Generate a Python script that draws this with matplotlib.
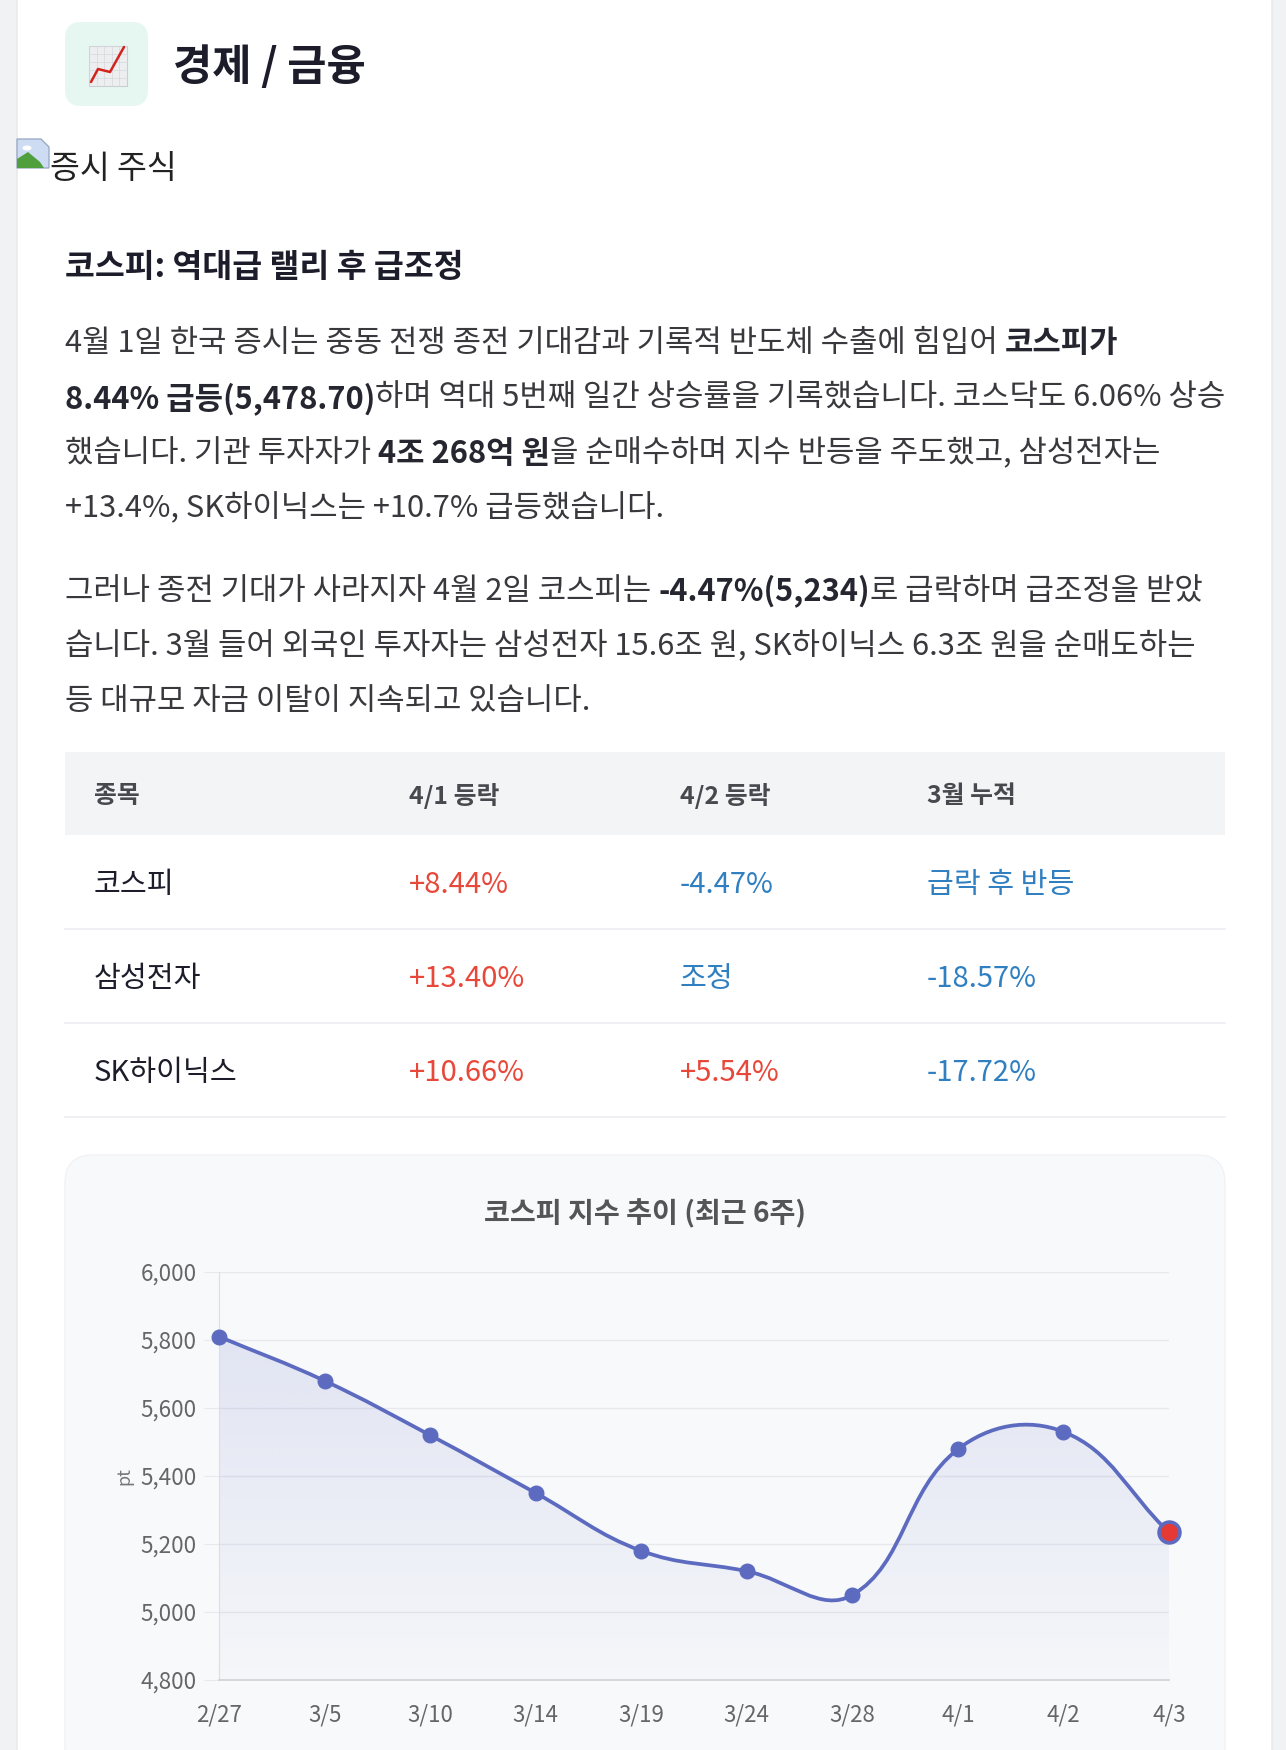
import numpy as np
import matplotlib.pyplot as plt
from matplotlib.patches import FancyBboxPatch, Rectangle, PathPatch, Polygon, Ellipse
from matplotlib.path import Path
from matplotlib.ticker import FuncFormatter

plt.rcParams['font.family'] = ['Noto Sans CJK KR', 'DejaVu Sans']

# ---- data ----
dates = ['2/27', '3/5', '3/10', '3/14', '3/19', '3/24', '3/28', '4/1', '4/2', '4/3']
kospi = [5810, 5680, 5520, 5350, 5180, 5120, 5050, 5478.7, 5530, 5234]

table_header = ['종목', '4/1 등락', '4/2 등락', '3월 누적']
table_names = ['코스피', '삼성전자', 'SK하이닉스']
table_apr1 = ['+8.44%', '+13.40%', '+10.66%']
table_apr2 = ['-4.47%', '조정', '+5.54%']
table_march = ['급락 후 반등', '-18.57%', '-17.72%']

para1 = [
    [('4월 1일 한국 증시는 중동 전쟁 종전 기대감과 기록적 반도체 수출에 힘입어 ', False), ('코스피가', True)],
    [('8.44% 급등(5,478.70)', True), ('하며 역대 5번째 일간 상승률을 기록했습니다. 코스닥도 6.06% 상승', False)],
    [('했습니다. 기관 투자자가 ', False), ('4조 268억 원', True), ('을 순매수하며 지수 반등을 주도했고, 삼성전자는', False)],
    [('+13.4%, SK하이닉스는 +10.7% 급등했습니다.', False)],
]
para2 = [
    [('그러나 종전 기대가 사라지자 4월 2일 코스피는 ', False), ('-4.47%(5,234)', True), ('로 급락하며 급조정을 받았', False)],
    [('습니다. 3월 들어 외국인 투자자는 삼성전자 15.6조 원, SK하이닉스 6.3조 원을 순매도하는', False)],
    [('등 대규모 자금 이탈이 지속되고 있습니다.', False)],
]

RED = '#e8483a'
BLUE = '#2f7fc1'
INDIGO = '#5c6bc0'

W, H = 1286, 1750
fig = plt.figure(figsize=(W / 100, H / 100), dpi=100)
fig.patch.set_facecolor('#f1f2f4')
page = fig.add_axes([0, 0, 1, 1])
page.set_xlim(0, W)
page.set_ylim(H, 0)
page.axis('off')
renderer = fig.canvas.get_renderer()

# white card
page.add_patch(FancyBboxPatch((17, -40), 1255, 1850, boxstyle='round,pad=0,rounding_size=26',
                              fc='white', ec='#e6e7ea', lw=1))

# header icon (chart emoji drawn by hand)
page.add_patch(FancyBboxPatch((65, 22), 83, 84, boxstyle='round,pad=0,rounding_size=16',
                              fc='#e6f7f2', ec='none'))
page.add_patch(Rectangle((89, 46), 38, 40, fc='#eceef0', ec='#c9ccd0', lw=0.8))
for gx in np.arange(89, 127, 7.6):
    page.plot([gx, gx], [46, 86], color='#d5d8dc', lw=0.5)
for gy in np.arange(46, 86, 8):
    page.plot([89, 127], [gy, gy], color='#d5d8dc', lw=0.5)
page.plot([91, 98, 110, 124], [82, 69, 72, 47], color='#d2231c', lw=1.8, solid_capstyle='round')

page.text(173, 67, '경제 / 금융', fontsize=30.7, fontweight='bold', color='#1c1c2b', va='center', ha='left')

# broken image icon + alt text
page.add_patch(Polygon([[17, 139], [41, 139], [49, 147], [49, 168], [17, 168]], closed=True,
                       fc='#cddcf3', ec='#93a6c0', lw=0.9))
page.add_patch(Ellipse((27, 148), 9, 5, fc='white', ec='none'))
page.add_patch(Polygon([[17, 168], [17, 159], [28, 152], [40, 162], [44, 168]], closed=True,
                       fc='#4fa03c', ec='none'))
page.text(50, 169, '증시 주식', fontsize=23.4, color='#222222', va='center', ha='left')

page.text(65, 268, '코스피: 역대급 랠리 후 급조정', fontsize=23.4, fontweight='bold',
          color='#1c1c2b', va='center', ha='left')


def seg_width(s, bold, size):
    w8 = 'bold' if bold else 'normal'
    t1 = page.text(0, 0, '|' + s + '|', fontsize=size, fontweight=w8)
    t2 = page.text(0, 0, '||', fontsize=size, fontweight=w8)
    w = t1.get_window_extent(renderer).width - t2.get_window_extent(renderer).width
    t1.remove()
    t2.remove()
    return w


def draw_line(x, y, parts, size):
    for s, bold in parts:
        page.text(x, y, s, fontsize=size, fontweight='bold' if bold else 'normal',
                  color='#262630' if bold else '#38383d', va='center', ha='left')
        x += seg_width(s, bold, size)


PSIZE = 22.2
for i, parts in enumerate(para1):
    draw_line(65, 343 + i * 55.3, parts, PSIZE)
for i, parts in enumerate(para2):
    draw_line(65, 591 + i * 55.3, parts, PSIZE)

# table
col_x = [94, 409, 680, 927]
page.add_patch(Rectangle((65, 752), 1160, 83, fc='#f3f4f6', ec='none'))
for cx, h in zip(col_x, table_header):
    page.text(cx, 796, h, fontsize=17.9, fontweight='bold', color='#48484e', va='center', ha='left')
row_y = [885, 979, 1073]
for i in range(3):
    page.plot([65, 1225], [row_y[i] + 44, row_y[i] + 44], color='#eceef1', lw=1.2)
    page.text(col_x[0], row_y[i], table_names[i], fontsize=21, color='#1c1c2b', va='center', ha='left')
    for cx, v in zip(col_x[1:], [table_apr1[i], table_apr2[i], table_march[i]]):
        c = RED if v.startswith('+') else BLUE
        page.text(cx, row_y[i], v, fontsize=21, color=c, va='center', ha='left')

# chart panel
page.add_patch(FancyBboxPatch((65, 1155), 1160, 620, boxstyle='round,pad=0,rounding_size=28',
                              fc='#f8f9fb', ec='#f1f2f5', lw=1))
page.text(645, 1214, '코스피 지수 추이 (최근 6주)', fontsize=20.3, fontweight='bold',
          color='#555555', va='center', ha='center')
page.text(124, 1476, 'pt', fontsize=13, color='#777777', rotation=90, va='center', ha='center')

ax_l, ax_r, ax_t, ax_b = 219, 1169, 1272, 1680
ax = fig.add_axes([ax_l / W, 1 - ax_b / H, (ax_r - ax_l) / W, (ax_b - ax_t) / H])
ax.set_facecolor('none')
ax.set_xlim(0, len(dates) - 1)
ax.set_ylim(4800, 6000)
ax.set_yticks(np.arange(4800, 6001, 200))
ax.yaxis.set_major_formatter(FuncFormatter(lambda v, p: f'{int(v):,}'))
ax.set_xticks(range(len(dates)))
ax.set_xticklabels(dates)
ax.grid(axis='y', color='#e7e9ed', lw=1)
ax.set_axisbelow(True)
for s in ['top', 'right']:
    ax.spines[s].set_visible(False)
ax.spines['left'].set_color('#dcdee2')
ax.spines['bottom'].set_color('#d3d5da')
ax.spines['bottom'].set_linewidth(1.3)
ax.tick_params(axis='y', length=11, color='#e7e9ed', pad=5, labelsize=16.2, labelcolor='#666666')
ax.tick_params(axis='x', length=0, pad=17, labelsize=16, labelcolor='#666666')

# Chart.js-like cubic spline (tension 0.4) computed in pixel space
xs = np.arange(len(kospi), dtype=float)
ys = np.array(kospi, dtype=float)
sx = (ax_r - ax_l) / (len(dates) - 1)
sy = (ax_b - ax_t) / 1200.0
px, py = xs * sx, -ys * sy
tension = 0.4
cp_prev, cp_next = [], []
n = len(xs)
for i in range(n):
    a = (px[max(i - 1, 0)], py[max(i - 1, 0)])
    b = (px[i], py[i])
    c = (px[min(i + 1, n - 1)], py[min(i + 1, n - 1)])
    d01 = np.hypot(b[0] - a[0], b[1] - a[1])
    d12 = np.hypot(c[0] - b[0], c[1] - b[1])
    s01 = d01 / (d01 + d12) if d01 + d12 else 0
    s12 = d12 / (d01 + d12) if d01 + d12 else 0
    fa, fb = tension * s01, tension * s12
    cp_prev.append((b[0] - fa * (c[0] - a[0]), b[1] - fa * (c[1] - a[1])))
    cp_next.append((b[0] + fb * (c[0] - a[0]), b[1] + fb * (c[1] - a[1])))

verts = [(xs[0], ys[0])]
codes = [Path.MOVETO]
for i in range(n - 1):
    verts += [(cp_next[i][0] / sx, -cp_next[i][1] / sy),
              (cp_prev[i + 1][0] / sx, -cp_prev[i + 1][1] / sy),
              (xs[i + 1], ys[i + 1])]
    codes += [Path.CURVE4] * 3
curve = Path(verts, codes)

fill_verts = verts + [(xs[-1], 4800), (xs[0], 4800), (xs[0], ys[0])]
fill_codes = codes + [Path.LINETO, Path.LINETO, Path.CLOSEPOLY]
fill_patch = PathPatch(Path(fill_verts, fill_codes), fc='none', ec='none', transform=ax.transData)
ax.add_patch(fill_patch)
grad = np.zeros((256, 1, 4))
grad[..., 0], grad[..., 1], grad[..., 2] = 92 / 255, 107 / 255, 192 / 255
grad[..., 3] = np.linspace(0.17, 0.02, 256)[:, None]
im = ax.imshow(grad, extent=[0, n - 1, 4800, 6000], origin='upper', aspect='auto', zorder=1)
im.set_clip_path(fill_patch)

ax.add_patch(PathPatch(curve, fc='none', ec=INDIGO, lw=2.7, zorder=3, clip_on=False))
ax.plot(xs[:-1], ys[:-1], 'o', color=INDIGO, ms=10.5, zorder=4, clip_on=False)
ax.plot(xs[-1], ys[-1], 'o', mfc='#e53935', mec=INDIGO, mew=2.6, ms=15, zorder=5, clip_on=False)

fig.savefig('out.png', dpi=100, facecolor=fig.get_facecolor())
